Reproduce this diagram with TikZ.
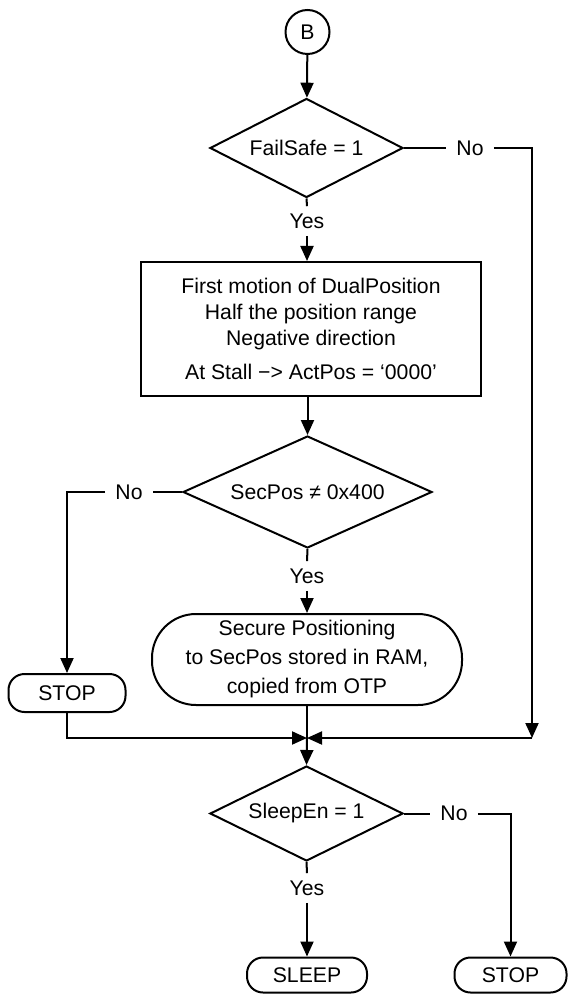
\documentclass[tikz,border=0pt]{standalone}
\usepackage{fontspec}
\setmainfont{Liberation Sans}
\usetikzlibrary{shapes.geometric,arrows.meta}

\tikzset{
  flow/.style={line width=1pt},
  arr/.style={-{Triangle[width=6.5pt,length=7.5pt]}},
  decision/.style={diamond, draw, line width=1pt, aspect=2, inner sep=0pt},
  process/.style={rectangle, draw, line width=1pt, align=center, inner sep=0pt},
  terminal/.style={rectangle, draw, line width=1pt, rounded corners=8pt, align=center, inner sep=0pt},
  connect/.style={circle, draw, line width=1pt, inner sep=0pt, minimum size=22pt},
  answer/.style={inner xsep=5pt, inner ysep=3.5pt}
}

\begin{document}
\begin{tikzpicture}[x=0.5pt, y=-0.5pt, font=\fontsize{10.6}{13}\selectfont]
\useasboundingbox (0,0) rectangle (567,994);
% nodes
\node[connect] (B) at (307.5,32) {B};
\node[decision, minimum width=96.5pt, minimum height=49.5pt] (fs) at (306.5,148) {FailSafe = 1};
\node[answer] (fsno) at (470,148) {No};
\node[answer] (fsyes) at (307,221) {Yes};
\node[process, minimum width=170pt, minimum height=67pt] (act) at (311,329)
  {First motion of DualPosition\\Half the position range\\Negative direction\\[4pt]At Stall −> ActPos = ‘0000’};
\node[decision, minimum width=124.5pt, minimum height=56pt] (sp) at (307.5,492) {SecPos ≠ 0x400};
\node[answer] (spno) at (129,492) {No};
\node[answer] (spyes) at (307,576) {Yes};
\node[terminal, rounded corners=22pt, minimum width=155pt, minimum height=45.5pt] (sec) at (307,659.5)
  {Secure Positioning\\[1.5pt]to SecPos stored in RAM,\\[1.5pt]copied from OTP};
\node[terminal, minimum width=58.5pt, minimum height=19pt] (stopA) at (67,693) {STOP};
\coordinate (merge) at (307,738);
\coordinate (mergeR) at (532,738);
\node[decision, minimum width=96.5pt, minimum height=47.5pt] (se) at (306.5,813.5) {SleepEn = 1};
\node[answer] (seno) at (454,813.5) {No};
\node[answer] (seyes) at (307,888) {Yes};
\node[terminal, minimum width=60pt, minimum height=17.5pt] (sleep) at (307,975) {SLEEP};
\node[terminal, minimum width=56pt, minimum height=17.5pt] (stopB) at (510.5,975) {STOP};
% connectors
\draw[flow,arr] (B) -- (fs);
\draw[flow] (fs.east) -- (fsno.west);
\draw[flow,arr] (fsno.east) -| (mergeR);
\draw[flow,arr] (mergeR) -- (merge);
\draw[flow] (fs.south) -- (fsyes.north);
\draw[flow,arr] (fsyes.south) -- (fsyes.south |- act.north);
\draw[flow,arr] (sp.north |- act.south) -- (sp.north);
\draw[flow] (sp.west) -- (spno.east);
\draw[flow,arr] (spno.west) -| (stopA.north);
\draw[flow] (sp.south) -- (spyes.north);
\draw[flow,arr] (spyes.south) -- (sec.north);
\draw[flow] (sec.south) -- (merge);
\draw[flow,arr] (stopA.south) |- (merge);
\draw[flow,arr] (merge) -- (se.north);
\draw[flow] (se.south) -- (seyes.north);
\draw[flow,arr] (seyes.south) -- (sleep.north);
\draw[flow] (se.east) -- (seno.west);
\draw[flow,arr] (seno.east) -| (stopB.north);
\end{tikzpicture}
\end{document}
